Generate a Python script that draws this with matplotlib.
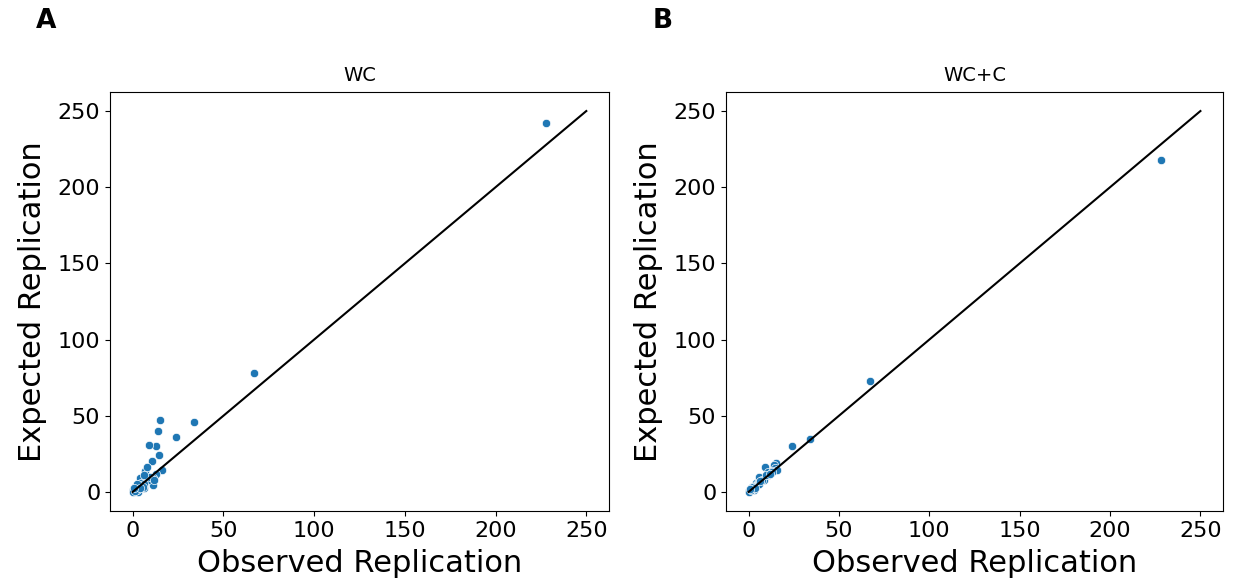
import numpy as np
import pandas as pd
import matplotlib
matplotlib.use("Agg")
import matplotlib.pyplot as plt
import seaborn as sns

# --- Data ---
observed = [228, 67, 34, 24, 15, 14, 14.5, 13, 9, 10.5, 7, 16, 4, 11, 1.3, 0.3,
            3, 6, 8.6, 13, 7.7, 5, 11, 2, 0.5, 1, 2.5, 3.5, 4.5, 6, 9.5, 12, 0, 1.5, 5.5,
            2.2, 3.8, 0.8, 6.5]
expected_wc = [242, 78, 46, 36, 47, 40, 24, 30, 31, 20, 14, 14.5, 9, 4.6, 3.5, 1.3,
               0.2, 2.4, 8, 12, 16.6, 4.6, 9, 3, 0.5, 2, 1, 5, 6, 5, 10, 8, 0, 0.8, 3,
               5.5, 2.5, 2.8, 11]
expected_wcc = [218, 73, 35, 30, 19, 18, 16, 14, 16.6, 11, 8, 14.4, 5.7, 13, 2.4, 0.9,
                1.3, 10, 8, 13, 7.9, 6, 11, 3, 0.5, 1.5, 2, 4, 4.5, 6, 11, 12, 0, 1, 5,
                3.5, 2.8, 1.8, 7]
panel_titles = ["WC", "WC+C"]
panel_letters = ["A", "B"]
ticks = [0, 50, 100, 150, 200, 250]

df = pd.DataFrame({"observed": observed, "WC": expected_wc, "WC+C": expected_wcc})

fig = plt.figure(figsize=(12.33, 5.87), dpi=100)
ax_a = fig.add_axes([0.0892, 0.1295, 0.4047, 0.7138])
ax_b = fig.add_axes([0.5888, 0.1295, 0.4031, 0.7138])

for ax, title, letter in zip([ax_a, ax_b], panel_titles, panel_letters):
    sns.scatterplot(data=df, x="observed", y=title, ax=ax)
    ax.plot([0, 250], [0, 250], color="black")
    ax.set_title(title, fontsize=14, pad=8)
    ax.set_xlabel("Observed Replication", fontsize=22, labelpad=6)
    ax.set_ylabel("Expected Replication", fontsize=22, labelpad=8)
    ax.set_xticks(ticks)
    ax.set_yticks(ticks)
    ax.tick_params(labelsize=16)
    ax.set_xlim(-12.5, 262.5)
    ax.set_ylim(-12.5, 262.5)
    ax.text(-0.148, 1.17, letter, transform=ax.transAxes, fontsize=19,
            fontweight="bold", va="center", ha="left")

fig.savefig("out.png", dpi=100)
